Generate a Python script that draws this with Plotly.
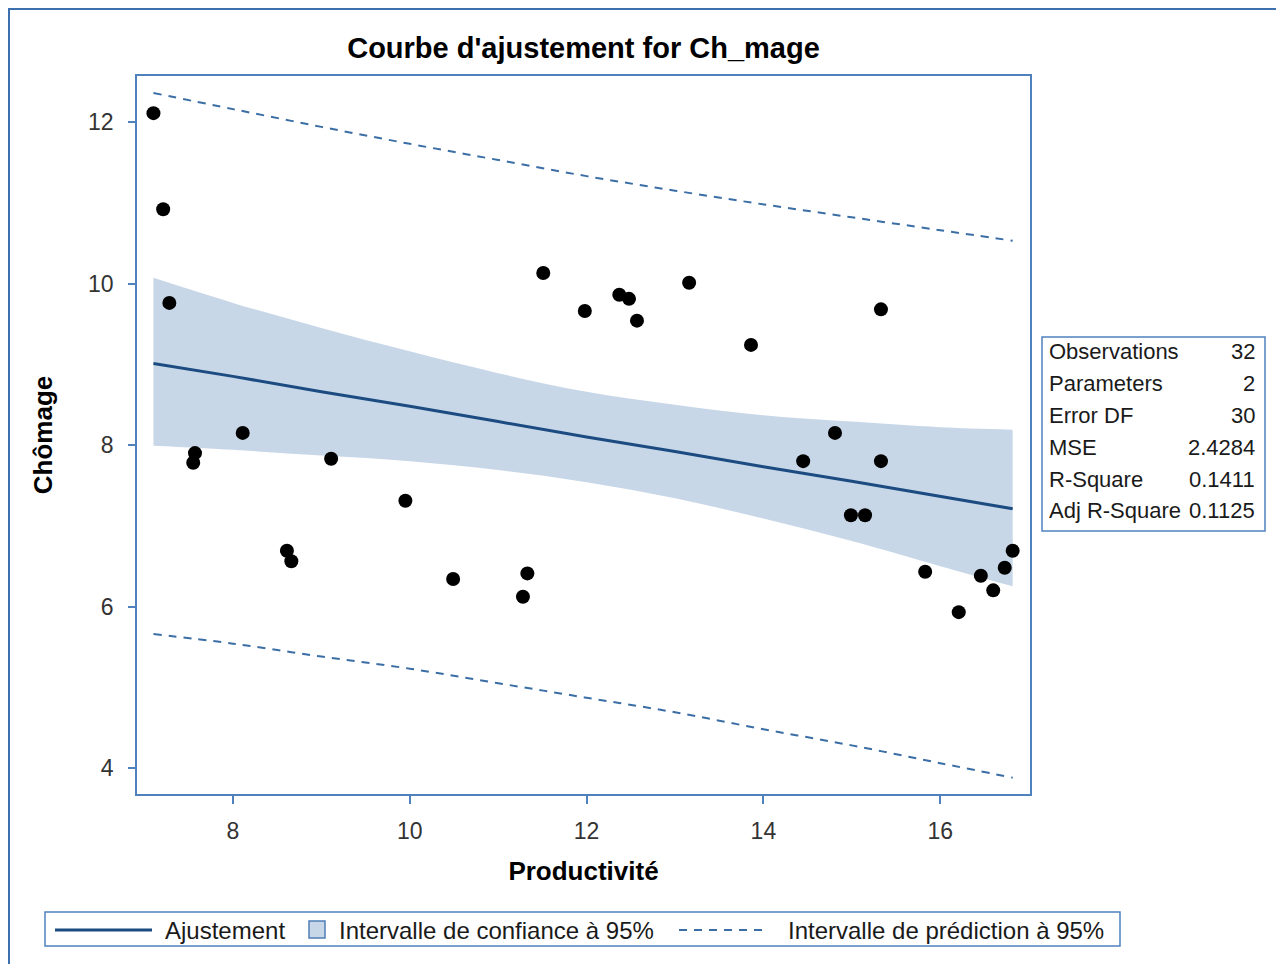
import plotly.graph_objects as go

# ---------------- data ----------------
productivite = [7.10, 7.21, 7.28, 7.55, 7.57, 8.11, 8.61, 8.66, 9.11, 9.95, 10.49,
                11.28, 11.33, 11.51, 11.98, 12.37, 12.48, 12.57, 13.16, 13.86, 14.45,
                14.81, 14.99, 15.15, 15.33, 15.33, 15.83, 16.21, 16.46, 16.60, 16.73, 16.82]
chomage = [12.11, 10.92, 9.76, 7.78, 7.90, 8.15, 6.69, 6.56, 7.83, 7.31, 6.34,
           6.12, 6.41, 10.13, 9.66, 9.86, 9.81, 9.54, 10.01, 9.24, 7.80,
           8.15, 7.13, 7.13, 9.68, 7.80, 6.43, 5.93, 6.38, 6.20, 6.48, 6.69]

band_x = [7.10, 8.0, 9.0, 10.0, 11.0, 12.0, 13.0, 14.0, 15.0, 16.0, 16.82]
fit_y = [9.01, 8.85, 8.66, 8.48, 8.29, 8.10, 7.92, 7.73, 7.55, 7.36, 7.21]
ci_upper = [10.07, 9.76, 9.45, 9.16, 8.89, 8.66, 8.50, 8.37, 8.29, 8.22, 8.19]
ci_lower = [7.99, 7.94, 7.87, 7.80, 7.69, 7.54, 7.34, 7.09, 6.81, 6.50, 6.25]
pi_upper = [12.36, 12.16, 11.94, 11.73, 11.53, 11.33, 11.15, 10.98, 10.82, 10.66, 10.53]
pi_lower = [5.66, 5.54, 5.38, 5.23, 5.05, 4.87, 4.69, 4.48, 4.28, 4.06, 3.88]

x_ticks = [8, 10, 12, 14, 16]
y_ticks = [4, 6, 8, 10, 12]

stat_labels = ["Observations", "Parameters", "Error DF", "MSE", "R-Square", "Adj R-Square"]
stat_values = ["32", "2", "30", "2.4284", "0.1411", "0.1125"]

legend_labels = ["Ajustement", "Intervalle de confiance à 95%", "Intervalle de prédiction à 95%"]

title_text = "Courbe d'ajustement for Ch_mage"
x_title = "Productivité"
y_title = "Chômage"

# ---------------- layout geometry (page pixel coordinates) ----------------
OFF = 8                      # page offset of the figure (body margin)
W, H = 1284 - OFF, 964 - OFF
PL, PR, PT, PB = 137, 1030, 76, 794  # plot area, page pixels
PW, PH = PR - PL, PB - PT


def px(xp):
    return (xp - PL) / PW


def py(yp):
    return (PB - yp) / PH


FONT = "Arial, Liberation Sans, sans-serif"
AXIS_BLUE = "#4f81bd"
FIT_BLUE = "#1c4b82"
BAND_FILL = "#c8d7e8"
PRED_BLUE = "#3b6ea5"
DASH = "8px,7px"

fig = go.Figure()

# confidence band
fig.add_trace(go.Scatter(x=band_x, y=ci_lower, mode="lines", line=dict(width=0, shape="spline"),
                         showlegend=False, hoverinfo="skip"))
fig.add_trace(go.Scatter(x=band_x, y=ci_upper, mode="lines", line=dict(width=0, shape="spline"),
                         fill="tonexty", fillcolor=BAND_FILL, name=legend_labels[1], showlegend=False))
# prediction limits
fig.add_trace(go.Scatter(x=band_x, y=pi_upper, mode="lines",
                         line=dict(color=PRED_BLUE, width=2, dash=DASH, shape="spline"),
                         name=legend_labels[2], showlegend=False))
fig.add_trace(go.Scatter(x=band_x, y=pi_lower, mode="lines",
                         line=dict(color=PRED_BLUE, width=2, dash=DASH, shape="spline"),
                         showlegend=False))
# fit line
fig.add_trace(go.Scatter(x=band_x, y=fit_y, mode="lines", line=dict(color=FIT_BLUE, width=3),
                         name=legend_labels[0], showlegend=False))
# observations
fig.add_trace(go.Scatter(x=productivite, y=chomage, mode="markers",
                         marker=dict(color="black", size=14, line=dict(width=0)),
                         name="Ch_mage", showlegend=False))

shapes = []
annotations = []

# outer frame of the graph
shapes.append(dict(type="rect", xref="paper", yref="paper",
                   x0=px(OFF + 1), x1=px(1300), y0=py(985), y1=py(OFF + 1),
                   line=dict(color="#3d70ad", width=2), fillcolor="rgba(0,0,0,0)", layer="below"))

# statistics inset
shapes.append(dict(type="rect", xref="paper", yref="paper",
                   x0=px(1042), x1=px(1265), y0=py(531), y1=py(337),
                   line=dict(color=AXIS_BLUE, width=1.5), fillcolor="white"))
for i, (lab, val) in enumerate(zip(stat_labels, stat_values)):
    yy = py(351 + 32 * i)
    annotations.append(dict(xref="paper", yref="paper", x=px(1047), y=yy, text=lab,
                            showarrow=False, xanchor="left", yanchor="middle",
                            font=dict(family=FONT, size=22, color="#1a1a1a")))
    annotations.append(dict(xref="paper", yref="paper", x=px(1257), y=yy, text=val,
                            showarrow=False, xanchor="right", yanchor="middle",
                            font=dict(family=FONT, size=22, color="#1a1a1a")))

# legend (drawn)
ly = py(930)
shapes.append(dict(type="rect", xref="paper", yref="paper",
                   x0=px(45), x1=px(1120), y0=py(946), y1=py(912),
                   line=dict(color=AXIS_BLUE, width=1.5), fillcolor="white"))
shapes.append(dict(type="line", xref="paper", yref="paper", x0=px(55), x1=px(152), y0=ly, y1=ly,
                   line=dict(color=FIT_BLUE, width=3)))
shapes.append(dict(type="rect", xref="paper", yref="paper", x0=px(309), x1=px(325),
                   y0=py(938), y1=py(921), line=dict(color="#4f7fb5", width=1.5), fillcolor=BAND_FILL))
shapes.append(dict(type="line", xref="paper", yref="paper", x0=px(679), x1=px(767), y0=ly, y1=ly,
                   line=dict(color=PRED_BLUE, width=2, dash=DASH)))
for xpos, lab in zip([163, 337, 786], legend_labels):
    annotations.append(dict(xref="paper", yref="paper", x=px(xpos), y=ly, text=lab,
                            showarrow=False, xanchor="left", yanchor="middle",
                            font=dict(family=FONT, size=24, color="#1a1a1a")))

fig.update_layout(
    width=W, height=H,
    margin=dict(l=PL - OFF, r=(W + OFF) - PR, t=PT - OFF, b=(H + OFF) - PB, pad=0),
    paper_bgcolor="white", plot_bgcolor="white",
    showlegend=False,
    title=dict(text="<b>" + title_text + "</b>", x=0.5, xref="paper", xanchor="center",
               y=1 - (48 - OFF) / H, yref="container", yanchor="middle",
               font=dict(family=FONT, size=29, color="black")),
    shapes=shapes,
    annotations=annotations,
    font=dict(family=FONT),
)

fig.update_xaxes(range=[6.914, 17.016], tickvals=x_ticks, ticktext=[str(v) for v in x_ticks],
                 showgrid=False, zeroline=False, showline=True, mirror=True,
                 linecolor=AXIS_BLUE, linewidth=1.5, ticks="outside", ticklen=8,
                 tickcolor=AXIS_BLUE, tickwidth=1.5, ticklabelstandoff=8,
                 tickfont=dict(family=FONT, size=23, color="#333333"),
                 title=dict(text="<b>" + x_title + "</b>", standoff=18,
                            font=dict(family=FONT, size=26, color="black")))
fig.update_yaxes(range=[3.678, 12.57], tickvals=y_ticks, ticktext=[str(v) for v in y_ticks],
                 showgrid=False, zeroline=False, showline=True, mirror=True,
                 linecolor=AXIS_BLUE, linewidth=1.5, ticks="outside", ticklen=7,
                 tickcolor=AXIS_BLUE, tickwidth=1.5, ticklabelstandoff=10,
                 tickfont=dict(family=FONT, size=23, color="#333333"),
                 title=dict(text="<b>" + y_title + "</b>", standoff=28,
                            font=dict(family=FONT, size=26, color="black")))

fig.write_html("out.html")
